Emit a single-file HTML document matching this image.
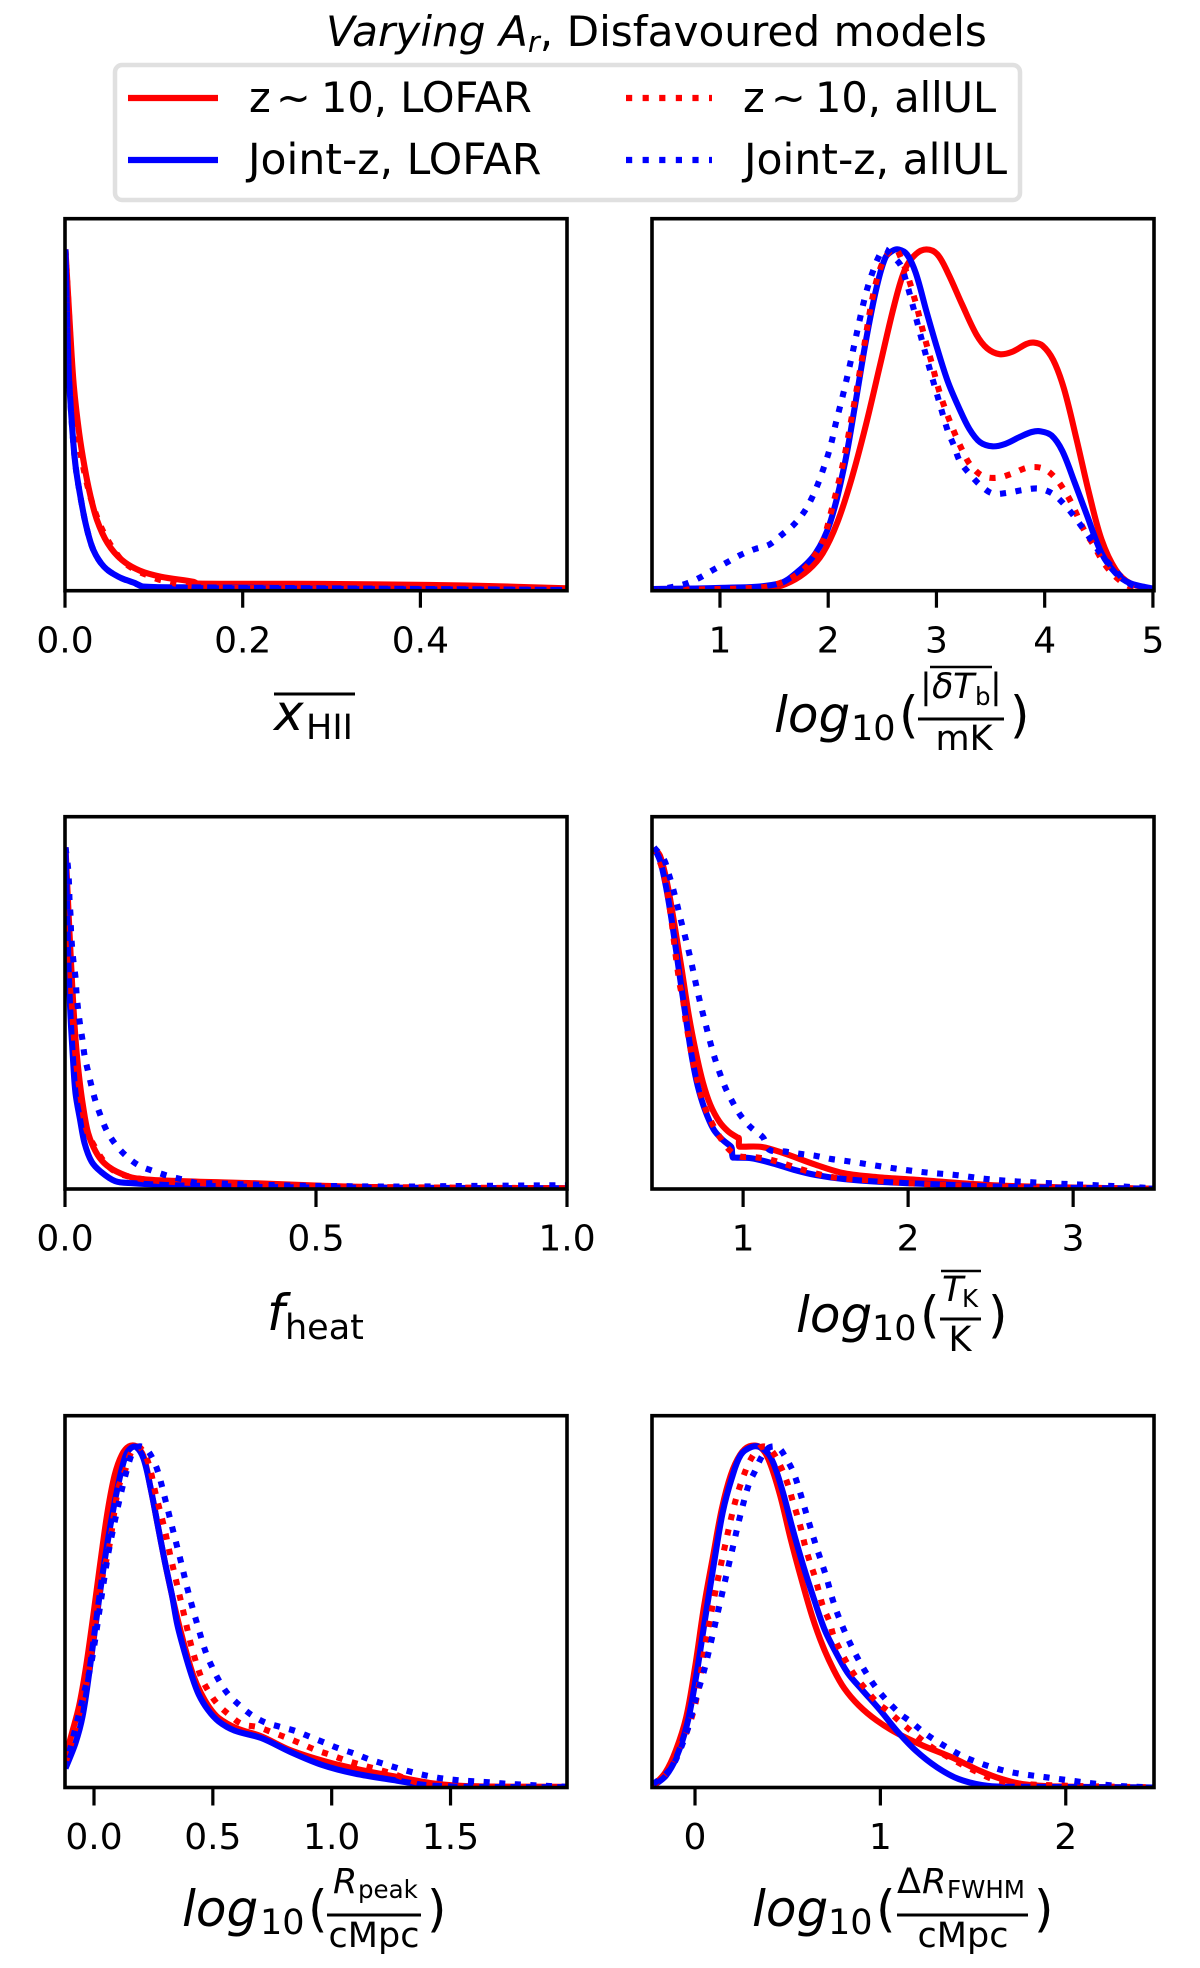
<!DOCTYPE html>
<html lang="en">
<head>
<meta charset="utf-8">
<title>Varying Ar, Disfavoured models</title>
<style>
html,body{margin:0;padding:0;background:#fff;width:1200px;height:1968px;overflow:hidden}
svg{display:block}
text{font-family:"DejaVu Sans","Liberation Sans",sans-serif;fill:#000}
.it{font-style:italic}
.lg{font-size:41.5px}
.lj{font-size:42.5px}
.big{font-size:50px}
.mid{font-size:35px}
.sm{font-size:24.5px}
</style>
</head>
<body>
<svg id="chart" xmlns="http://www.w3.org/2000/svg" width="1200" height="1968" viewBox="0 0 1200 1968">
  <rect x="0" y="0" width="1200" height="1968" fill="#fff"/>
  <text font-size="42.2" x="326" y="46"><tspan class="it">Varying A</tspan><tspan class="it" font-size="29" dy="6">r</tspan><tspan dy="-6">, Disfavoured models</tspan></text>

  <g>
    <rect x="115" y="65" width="905" height="135" rx="7" fill="#fff" stroke="#e0e0e0" stroke-width="4.5"/>
    <line x1="128" x2="218" y1="98" y2="98" stroke="#f00" stroke-width="6.2"/>
    <text class="lg" y="112"><tspan x="249">z</tspan><tspan x="276">~</tspan><tspan x="321">10, LOFAR</tspan></text>
    <line x1="128" x2="218" y1="160" y2="160" stroke="#00f" stroke-width="6.2"/>
    <text class="lj" x="248" y="174">Joint-z, LOFAR</text>
    <line x1="626" x2="712" y1="98" y2="98" stroke="#f00" stroke-width="6.2" stroke-dasharray="6.2 10.4"/>
    <text class="lg" y="112"><tspan x="743">z</tspan><tspan x="771">~</tspan><tspan x="815">10, allUL</tspan></text>
    <line x1="626" x2="712" y1="160" y2="160" stroke="#00f" stroke-width="6.2" stroke-dasharray="6.2 10.4"/>
    <text class="lj" x="744" y="174">Joint-z, allUL</text>
  </g>

  <g id="panels"></g>

  <g>
    <line x1="274" x2="355" y1="694" y2="694" stroke="#000" stroke-width="3"/>
    <text class="big it" x="274" y="730">x</text><text class="mid" x="306" y="739">HII</text>
  </g>
  <g>
    <text class="big it" x="774" y="732">log</text><text class="mid" x="851" y="740">10</text><text class="big" x="899" y="732">(</text>
    <line x1="930" x2="992" y1="667" y2="667" stroke="#000" stroke-width="2.4"/>
    <text class="mid" x="920" y="698">|</text><text class="mid it" x="932" y="698">δ</text><text class="mid it" x="953" y="698">T</text><text class="sm" x="975" y="705">b</text><text class="mid" x="990" y="698">|</text>
    <line x1="918" x2="1004" y1="719" y2="719" stroke="#000" stroke-width="3"/>
    <text class="mid" x="964" y="750" text-anchor="middle">mK</text><text class="big" x="1010" y="732">)</text>
  </g>
  <g>
    <text class="big it" x="267" y="1330">f</text><text class="mid" x="285" y="1339">heat</text>
  </g>
  <g>
    <text class="big it" x="796" y="1332">log</text><text class="mid" x="872" y="1340">10</text><text class="big" x="920" y="1332">(</text>
    <line x1="941" x2="981" y1="1271" y2="1271" stroke="#000" stroke-width="2.4"/>
    <text class="mid it" x="942" y="1301">T</text><text class="sm" x="962" y="1307">K</text>
    <line x1="940" x2="981" y1="1319" y2="1319" stroke="#000" stroke-width="3"/>
    <text class="mid" x="960" y="1351" text-anchor="middle">K</text><text class="big" x="988" y="1332">)</text>
  </g>
  <g>
    <text class="big it" x="182" y="1926">log</text><text class="mid" x="260" y="1934">10</text><text class="big" x="308" y="1926">(</text>
    <text class="mid it" x="333" y="1893">R</text><text class="sm" x="358" y="1898">peak</text>
    <line x1="327" x2="421" y1="1915" y2="1915" stroke="#000" stroke-width="3"/>
    <text class="mid" x="374" y="1947" text-anchor="middle">cMpc</text><text class="big" x="427" y="1926">)</text>
  </g>
  <g>
    <text class="big it" x="752" y="1926">log</text><text class="mid" x="828" y="1934">10</text><text class="big" x="876" y="1926">(</text>
    <text class="mid" x="897" y="1893">Δ</text><text class="mid it" x="922" y="1893">R</text><text class="sm" x="947" y="1898">FWHM</text>
    <line x1="897" x2="1028" y1="1915" y2="1915" stroke="#000" stroke-width="3"/>
    <text class="mid" x="963" y="1947" text-anchor="middle">cMpc</text><text class="big" x="1034" y="1926">)</text>
  </g>
</svg>

<script>
/* Panel 1: mean ionized fraction */
const xhiiTicks=[0,0.2,0.4];
const xhiiTickLabels=["0.0","0.2","0.4"];
const xhiiRedSolidX=[.0005,.006,.01,.016,.022,.028,.036,.048,.064,.084,.108,.145,.149,.293,.454,.565];
const xhiiRedSolidY=[1,.754,.598,.461,.363,.285,.207,.139,.09,.059,.041,.026,.021,.02,.015,.007];
const xhiiBlueSolidX=[.0005,.004,.008,.012,.018,.024,.032,.044,.06,.08,.088,.132,.293,.565];
const xhiiBlueSolidY=[1,.656,.48,.363,.266,.188,.119,.07,.041,.021,.012,.01,.007,.002];
const xhiiRedDotX=[.0005,.008,.014,.022,.032,.044,.062,.076,.092,.108,.145,.293,.565];
const xhiiRedDotY=[1,.656,.461,.344,.246,.168,.095,.065,.046,.031,.012,.007,.005];
const xhiiBlueDotX=[.0005,.004,.008,.012,.018,.024,.032,.044,.06,.08,.088,.132,.293,.565];
const xhiiBlueDotY=[1,.656,.48,.363,.266,.188,.119,.07,.041,.02,.012,.008,.005,.002];

/* Panel 2: brightness temperature fluctuation */
const dtbTicks=[1,2,3,4,5];
const dtbTickLabels=["1","2","3","4","5"];
const dtbRedSolidX=[.373,.993,1.488,1.653,1.818,1.95,2.083,2.215,2.347,2.479,2.611,2.71,2.809,2.908,3.007,3.106,3.238,3.37,3.469,3.584,3.7,3.832,3.898,3.98,4.079,4.178,4.294,4.409,4.525,4.657,4.789,5.003];
const dtbRedSolidY=[.005,.006,.009,.026,.061,.11,.199,.327,.484,.661,.838,.942,.986,1,.986,.931,.838,.75,.71,.693,.7,.723,.727,.718,.676,.592,.444,.287,.15,.061,.022,.004];
const dtbBlueSolidX=[.373,.993,1.538,1.719,1.884,2.017,2.149,2.248,2.347,2.446,2.528,2.594,2.65,2.726,2.809,2.908,3.007,3.106,3.205,3.304,3.403,3.518,3.634,3.766,3.881,3.964,4.063,4.162,4.277,4.393,4.525,4.657,4.789,5.003];
const dtbBlueSolidY=[.005,.008,.02,.056,.11,.199,.366,.543,.73,.887,.976,.996,1,.986,.931,.818,.71,.612,.538,.474,.435,.423,.43,.45,.465,.467,.455,.41,.317,.219,.11,.051,.022,.006];
const dtbRedDotX=[.373,1.389,1.62,1.785,1.868,1.95,2.026,2.132,2.215,2.314,2.413,2.495,2.578,2.627,2.67,2.726,2.809,2.881,2.957,3.033,3.129,3.248,3.32,3.429,3.568,3.706,3.848,3.987,4.096,4.185,4.254,4.36,4.459,4.531,4.617,4.729,4.871,5];
const dtbRedDotY=[.002,.01,.031,.066,.1,.145,.23,.366,.504,.682,.864,.956,.998,1,.976,.931,.843,.754,.666,.577,.492,.405,.366,.336,.331,.344,.361,.358,.331,.292,.253,.18,.13,.089,.053,.022,.002,0];
const dtbBlueDotX=[.373,.531,.68,.812,.937,1.059,1.191,1.323,1.455,1.571,1.68,1.776,1.845,1.904,1.954,2,2.036,2.069,2.139,2.205,2.267,2.33,2.37,2.413,2.469,2.518,2.561,2.667,2.716,2.792,2.868,2.944,3.023,3.106,3.162,3.215,3.304,3.403,3.518,3.66,3.799,3.947,4.079,4.185,4.277,4.366,4.449,4.531,4.634,4.739,4.871,5.003];
const dtbBlueDotY=[.002,.009,.02,.038,.061,.082,.105,.122,.135,.164,.193,.23,.269,.312,.356,.4,.442,.489,.577,.668,.759,.848,.895,.936,.98,1,.99,.955,.911,.823,.731,.643,.556,.467,.425,.38,.343,.31,.285,.287,.295,.299,.283,.251,.216,.177,.14,.102,.066,.031,.007,.002];

/* Panel 3: heating efficiency */
const fheatTicks=[0,0.5,1];
const fheatTickLabels=["0.0","0.5","1.0"];
const fheatRedSolidX=[.001,.009,.014,.021,.028,.036,.046,.061,.078,.103,.142,.235,.377,.52,.662,1];
const fheatRedSolidY=[1,.75,.605,.438,.33,.242,.164,.11,.076,.051,.031,.023,.017,.009,.004,.002];
const fheatBlueSolidX=[.001,.007,.011,.016,.021,.03,.039,.053,.071,.1,.135,.235,.52,1];
const fheatBlueSolidY=[1,.653,.506,.378,.28,.203,.134,.08,.051,.023,.017,.01,.004,.002];
const fheatRedDotX=[.001,.009,.014,.021,.032,.043,.061,.078,.1,.135,.199,.377,.52,1];
const fheatRedDotY=[1,.711,.534,.388,.261,.173,.119,.08,.051,.034,.022,.012,.007,.002];
const fheatBlueDotX=[.001,.006,.008,.009,.011,.012,.014,.017,.021,.023,.026,.03,.035,.039,.046,.053,.061,.071,.083,.1,.121,.146,.175,.204,.234,.265,.296,.328,.452,.513,.662,.805,1];
const fheatBlueDotY=[1,.941,.892,.846,.801,.755,.709,.664,.618,.572,.527,.481,.435,.39,.344,.3,.256,.214,.171,.132,.098,.07,.053,.039,.028,.017,.017,.015,.01,.009,.007,.009,.011];

/* Panel 4: kinetic temperature */
const tkTicks=[1,2,3];
const tkTickLabels=["1","2","3"];
const tkRedSolidX=[.46,.497,.541,.584,.627,.671,.714,.757,.801,.855,.909,.965,.974,.976,.99,1.115,1.245,1.44,1.613,1.83,2.047,2.48,2.913,3.492];
const tkRedSolidY=[1,.975,.892,.774,.646,.508,.4,.311,.247,.198,.169,.151,.149,.125,.124,.123,.105,.071,.046,.034,.027,.012,.005,.001];
const tkBlueSolidX=[.46,.497,.53,.562,.595,.627,.66,.692,.725,.768,.822,.876,.925,.931,.937,.95,1.05,1.18,1.31,1.44,1.613,1.83,2.263,2.697,3.492];
const tkBlueSolidY=[1,.961,.892,.803,.695,.587,.479,.38,.302,.233,.174,.144,.125,.12,.093,.092,.09,.075,.056,.041,.029,.021,.012,.005,.001];
const tkRedDotX=[.46,.508,.541,.569,.591,.617,.638,.649,.664,.682,.699,.721,.743,.773,.812,.859,.916,.974,1.071,1.162,1.255,1.342,1.435,1.526,1.623,1.808,2.003,2.198,2.567,3.492];
const tkRedDotY=[1,.941,.868,.774,.686,.597,.548,.503,.459,.41,.366,.322,.277,.233,.192,.152,.115,.096,.093,.086,.073,.059,.046,.036,.03,.024,.017,.012,.007,.001];
const tkBlueDotX=[.46,.519,.551,.578,.601,.623,.647,.671,.692,.712,.733,.755,.779,.803,.829,.859,.894,.937,.985,1.05,1.121,1.158,1.249,1.344,1.44,1.531,1.624,1.721,1.906,2.097,2.286,2.48,2.664,2.946,3.228,3.492];
const tkBlueDotY=[1,.966,.92,.875,.831,.787,.742,.695,.651,.605,.56,.516,.471,.426,.382,.339,.295,.254,.215,.179,.151,.115,.11,.103,.097,.088,.082,.075,.061,.049,.041,.029,.022,.015,.009,.002];

/* Panel 5: peak scale */
const rpeakTicks=[0,0.5,1,1.5];
const rpeakTickLabels=["0.0","0.5","1.0","1.5"];
const rpeakRedSolidX=[-.12,-.093,-.063,-.033,-.003,.027,.057,.087,.117,.147,.178,.208,.238,.268,.298,.328,.358,.388,.418,.449,.486,.524,.599,.704,.824,.975,1.126,1.276,1.427,1.577,1.99];
const rpeakRedSolidY=[.09,.159,.238,.356,.504,.661,.808,.916,.975,1,1,.971,.878,.77,.662,.564,.476,.397,.328,.278,.234,.204,.174,.15,.11,.076,.051,.031,.012,.004,.002];
const rpeakBlueSolidX=[-.12,-.078,-.048,-.018,.012,.042,.072,.102,.132,.155,.178,.208,.238,.268,.298,.328,.351,.381,.411,.441,.479,.524,.591,.704,.824,.96,1.096,1.276,1.396,1.577,1.99];
const rpeakBlueSolidY=[.056,.13,.209,.347,.504,.652,.78,.888,.971,.995,.998,.965,.878,.77,.662,.564,.476,.397,.328,.272,.228,.194,.167,.145,.105,.066,.041,.02,.007,.002,.001];
const rpeakRedDotX=[-.12,-.078,-.026,.027,.065,.102,.132,.155,.178,.2,.23,.26,.293,.321,.351,.381,.411,.451,.482,.519,.569,.622,.689,.749,.81,.87,.933,.998,1.058,1.126,1.254,1.381,1.728,1.99];
const rpeakRedDotY=[.071,.174,.326,.587,.71,.877,.932,.981,1,.992,.949,.859,.769,.68,.59,.5,.411,.323,.282,.245,.213,.186,.177,.162,.146,.129,.11,.095,.08,.066,.041,.012,.002,.001];
const rpeakBlueDotX=[-.12,-.078,-.041,-.011,.03,.06,.087,.117,.15,.17,.19,.215,.241,.268,.301,.334,.366,.397,.433,.471,.497,.528,.564,.614,.662,.719,.782,.846,.907,.968,1.032,1.093,1.156,1.216,1.281,1.344,1.412,1.472,1.539,1.604,1.67,1.735,1.868,1.992];
const rpeakBlueDotY=[.061,.174,.28,.366,.552,.686,.779,.873,.96,.992,1,.995,.972,.928,.841,.749,.661,.572,.482,.395,.353,.311,.274,.24,.213,.191,.178,.166,.149,.132,.114,.1,.083,.07,.056,.044,.033,.026,.021,.018,.015,.011,.006,.002];

/* Panel 6: FWHM scale */
const rfwhmTicks=[0,1,2];
const rfwhmTickLabels=["0","1","2"];
const rfwhmRedSolidX=[-.225,-.16,-.104,-.047,.001,.049,.098,.145,.193,.243,.292,.353,.401,.459,.516,.574,.632,.69,.748,.805,.883,.979,1.094,1.229,1.383,1.537,1.653,1.769,1.961,2.476];
const rfwhmRedSolidY=[.005,.044,.108,.207,.355,.532,.68,.818,.916,.975,1,.997,.956,.857,.729,.611,.502,.414,.345,.291,.241,.197,.158,.123,.089,.049,.025,.01,.003,0];
const rfwhmBlueSolidX=[-.225,-.158,-.1,-.042,.006,.054,.103,.15,.198,.247,.304,.353,.41,.468,.526,.584,.642,.699,.757,.825,.902,.998,1.094,1.191,1.306,1.422,1.576,1.769,2.476];
const rfwhmBlueSolidY=[.005,.034,.089,.187,.325,.493,.66,.808,.906,.975,.998,.997,.966,.877,.759,.65,.552,.463,.399,.335,.286,.227,.163,.108,.059,.025,.005,.002,0];
const rfwhmRedDotX=[-.225,-.158,-.091,-.042,.006,.06,.108,.16,.218,.272,.31,.343,.372,.405,.434,.472,.503,.526,.551,.574,.593,.618,.644,.667,.69,.724,.748,.782,.825,.869,.921,.979,1.046,1.108,1.171,1.239,1.306,1.451,1.528,1.605,1.769,2.476];
const rfwhmRedDotY=[.005,.04,.113,.167,.256,.433,.569,.704,.84,.928,.971,.993,1,.992,.971,.929,.885,.842,.798,.754,.71,.664,.622,.577,.531,.488,.443,.404,.36,.323,.288,.251,.222,.192,.163,.133,.108,.064,.044,.025,.01,0];
const rfwhmBlueDotX=[-.225,-.158,-.11,-.042,.002,.05,.089,.127,.166,.204,.243,.291,.324,.358,.391,.42,.453,.484,.526,.555,.603,.651,.705,.753,.815,.892,.983,1.1,1.166,1.233,1.297,1.374,1.447,1.524,1.605,1.686,1.769,1.936,2.102,2.27,2.476];
const rfwhmBlueDotY=[.01,.039,.074,.167,.256,.345,.433,.523,.615,.704,.795,.89,.928,.968,.993,1,.995,.972,.93,.886,.798,.712,.623,.533,.448,.365,.288,.219,.192,.162,.138,.113,.091,.074,.059,.047,.039,.027,.015,.005,0];

const Y_TOP_VALUE = 1.09;
const RED = '#ff0000';
const BLUE = '#0000ff';

function seriesSet(rsx, rsy, bsx, bsy, rdx, rdy, bdx, bdy) {
  return [
    {key:'red-solid', color:RED, dotted:false, x:rsx, y:rsy},
    {key:'blue-solid', color:BLUE, dotted:false, x:bsx, y:bsy},
    {key:'red-dotted', color:RED, dotted:true, x:rdx, y:rdy},
    {key:'blue-dotted', color:BLUE, dotted:true, x:bdx, y:bdy}
  ];
}

const panels = [
  {id:'xhii', xMin:0, xMax:.565, left:65, right:567, top:218.7, bottom:590.7, tickLen:17, labelY:652.7, ticks:xhiiTicks, labels:xhiiTickLabels,
   series:seriesSet(xhiiRedSolidX,xhiiRedSolidY,xhiiBlueSolidX,xhiiBlueSolidY,xhiiRedDotX,xhiiRedDotY,xhiiBlueDotX,xhiiBlueDotY)},
  {id:'dtb', xMin:.372, xMax:5.01, left:652, right:1154, top:218.7, bottom:590.7, tickLen:17, labelY:652.7, ticks:dtbTicks, labels:dtbTickLabels,
   series:seriesSet(dtbRedSolidX,dtbRedSolidY,dtbBlueSolidX,dtbBlueSolidY,dtbRedDotX,dtbRedDotY,dtbBlueDotX,dtbBlueDotY)},
  {id:'fheat', xMin:0, xMax:1, left:65, right:567, top:816.7, bottom:1189, tickLen:18, labelY:1250.7, ticks:fheatTicks, labels:fheatTickLabels,
   series:seriesSet(fheatRedSolidX,fheatRedSolidY,fheatBlueSolidX,fheatBlueSolidY,fheatRedDotX,fheatRedDotY,fheatBlueDotX,fheatBlueDotY)},
  {id:'tk', xMin:.448, xMax:3.49, left:652, right:1154, top:816.7, bottom:1189, tickLen:18, labelY:1250.7, ticks:tkTicks, labels:tkTickLabels,
   series:seriesSet(tkRedSolidX,tkRedSolidY,tkBlueSolidX,tkBlueSolidY,tkRedDotX,tkRedDotY,tkBlueDotX,tkBlueDotY)},
  {id:'rpeak', xMin:-.122, xMax:1.99, left:65, right:567, top:1415.7, bottom:1787.5, tickLen:18, labelY:1849, ticks:rpeakTicks, labels:rpeakTickLabels,
   series:seriesSet(rpeakRedSolidX,rpeakRedSolidY,rpeakBlueSolidX,rpeakBlueSolidY,rpeakRedDotX,rpeakRedDotY,rpeakBlueDotX,rpeakBlueDotY)},
  {id:'rfwhm', xMin:-.232, xMax:2.476, left:652, right:1154, top:1415.7, bottom:1787.5, tickLen:18, labelY:1849, ticks:rfwhmTicks, labels:rfwhmTickLabels,
   series:seriesSet(rfwhmRedSolidX,rfwhmRedSolidY,rfwhmBlueSolidX,rfwhmBlueSolidY,rfwhmRedDotX,rfwhmRedDotY,rfwhmBlueDotX,rfwhmBlueDotY)}
];

const NS = 'http://www.w3.org/2000/svg';
function mk(tag, parent, attrs) {
  const el = document.createElementNS(NS, tag);
  for (const k in attrs) el.setAttribute(k, attrs[k]);
  parent.appendChild(el);
  return el;
}
function smoothPath(pts) {
  const n = pts.length;
  const dirs = pts.map((p, i) => {
    const a = pts[Math.max(i - 1, 0)], b = pts[Math.min(i + 1, n - 1)];
    const dx = b[0] - a[0], dy = b[1] - a[1], l = Math.hypot(dx, dy) || 1;
    return [dx / l, dy / l];
  });
  let d = 'M' + pts[0][0].toFixed(2) + ' ' + pts[0][1].toFixed(2);
  for (let i = 0; i < n - 1; i++) {
    const p = pts[i], q = pts[i + 1];
    const len = Math.hypot(q[0] - p[0], q[1] - p[1]) / 3;
    d += 'C' + (p[0] + dirs[i][0] * len).toFixed(2) + ' ' + (p[1] + dirs[i][1] * len).toFixed(2) + ' ' +
         (q[0] - dirs[i + 1][0] * len).toFixed(2) + ' ' + (q[1] - dirs[i + 1][1] * len).toFixed(2) + ' ' +
         q[0].toFixed(2) + ' ' + q[1].toFixed(2);
  }
  return d;
}

const root = document.getElementById('panels');
panels.forEach(function (p) {
  const xScale = v => p.left + (v - p.xMin) / (p.xMax - p.xMin) * (p.right - p.left);
  const yScale = v => p.bottom - v / Y_TOP_VALUE * (p.bottom - p.top);

  const g = mk('g', root, {});
  
  

  const clip = mk('clipPath', g, {id:'clip-' + p.id});
  mk('rect', clip, {x:p.left, y:p.top, width:p.right - p.left, height:p.bottom - p.top});

  const lines = mk('g', g, {'clip-path':'url(#clip-' + p.id + ')'});
  
  
  p.series.forEach(function (s) {
    const pts = s.x.map((xv, i) => [xScale(xv), yScale(s.y[i])]);
    const path = mk('path', lines, {
      d:smoothPath(pts), fill:'none', stroke:s.color, 'stroke-width':6.1, 'stroke-linejoin':'round'
    });
    if (s.dotted) path.setAttribute('stroke-dasharray', '6.1 9.5');
    
    
  });

  const frame = mk('rect', g, {
    x:p.left, y:p.top, width:p.right - p.left, height:p.bottom - p.top,
    fill:'none', stroke:'#000', 'stroke-width':3.6
  });
  
  

  p.ticks.forEach(function (t, i) {
    const x = xScale(t);
    const tick = mk('line', g, {x1:x, x2:x, y1:p.bottom, y2:p.bottom + p.tickLen, stroke:'#000', 'stroke-width':3.2});
    
    
    const label = mk('text', g, {x:x, y:p.labelY, 'text-anchor':'middle', 'font-size':36});
    label.textContent = p.labels[i];
    
    
  });
});
</script>
</body>
</html>
